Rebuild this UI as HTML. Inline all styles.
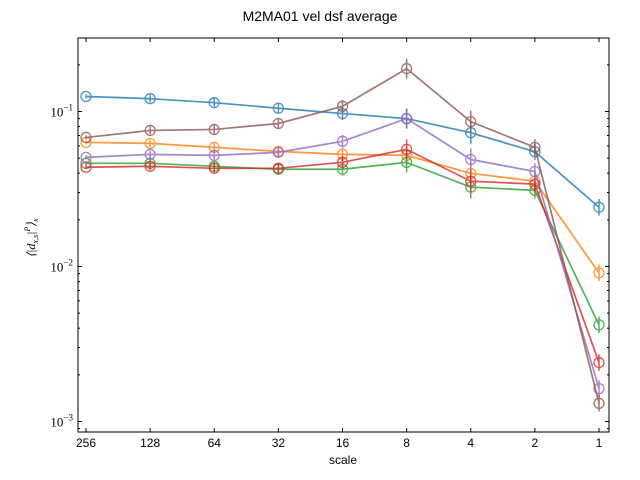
<!DOCTYPE html>
<html><head><meta charset="utf-8"><style>
body{margin:0;background:#fff}
svg{display:block;font-family:"Liberation Sans",sans-serif}
</style></head><body>
<svg id="chart" width="640" height="480">
<text x="320" y="21" text-anchor="middle" font-size="14">M2MA01 vel dsf average</text>
<text x="343" y="464" text-anchor="middle" font-size="12">scale</text>
<text transform="translate(35,238) rotate(-90)" text-anchor="middle" font-size="12" font-family="Liberation Serif,serif" font-style="italic">⟨|d<tspan font-size="8" dy="3">x,s</tspan><tspan dy="-3">|</tspan><tspan font-size="8" dy="-5">P</tspan><tspan dy="5">⟩</tspan><tspan font-size="8" dy="3">x</tspan></text>
<g id="axes"></g>
<g id="series"></g>
</svg>
<script>
const categories=["256","128","64","32","16","8","4","2","1"];
const blue=[0.125,0.121,0.114,0.105,0.097,0.090,0.073,0.055,0.0241];
const orange=[0.0632,0.0623,0.0587,0.0553,0.0529,0.0521,0.0399,0.0355,0.0091];
const green=[0.0463,0.0463,0.0443,0.0424,0.0424,0.047,0.0325,0.031,0.0042];
const red=[0.0437,0.0443,0.043,0.043,0.047,0.057,0.0355,0.034,0.0024];
const purple=[0.0506,0.0529,0.0521,0.0545,0.0642,0.090,0.049,0.041,0.00163];
const brown=[0.068,0.0755,0.0766,0.0837,0.108,0.189,0.086,0.0587,0.00131];
const relErr=[0.03,0.06,0.08,0.08,0.1,0.16,0.18,0.13,0.13];
const yTickLabels=["10","10","10"];
const yTickExps=[-1,-2,-3];
const L=78,R=609,T=38,B=432;
const NS="http://www.w3.org/2000/svg";
function x(i){return 86+i*(599-86)/(categories.length-1);}
function y(v){return 111.5+(-1-Math.log10(v))*155;}
function mk(tag,a,p){const e=document.createElementNS(NS,tag);for(const k in a)e.setAttribute(k,a[k]);p.appendChild(e);return e;}
const ax=document.getElementById('axes');
const sg=document.getElementById('series');
categories.forEach((c,i)=>{
 const t=mk('line',{x1:x(i),x2:x(i),y1:B,y2:B-4,stroke:'#000'},ax);
 
 mk('line',{x1:x(i),x2:x(i),y1:T,y2:T+4,stroke:'#000'},ax);
 const l=mk('text',{x:x(i),y:B+15,'text-anchor':'middle','font-size':12},ax);l.textContent=c;
 
});
for(let d=-4;d<0;d++){for(let m=1;m<10;m++){const v=m*Math.pow(10,d);const yy=y(v);if(yy<T||yy>B)continue;
 const len=m==1?4:2;
 mk('line',{x1:L,x2:L+len,y1:yy,y2:yy,stroke:'#000'},ax);
 mk('line',{x1:R,x2:R-len,y1:yy,y2:yy,stroke:'#000'},ax);}}
yTickExps.forEach((e,i)=>{const t=mk('text',{x:L-5,y:y(Math.pow(10,e))+5,'text-anchor':'end','font-size':13,'font-family':'Liberation Serif,serif'},ax);
 
 t.innerHTML=yTickLabels[i]+'<tspan font-size="9" dy="-6">−'+(-e)+'</tspan>';});
const fr=mk('rect',{x:L,y:T,width:R-L,height:B-T,fill:'none',stroke:'#000','stroke-width':1},ax);

const series=[["blue",blue,"#1f77b4"],["orange",orange,"#ff7f0e"],["green",green,"#2ca02c"],["red",red,"#d62728"],["purple",purple,"#9467bd"],["brown",brown,"#8c564b"]];
series.forEach(([n,vals,col])=>{
 const g=mk('g',{opacity:0.8},sg);
 
 mk('polyline',{points:vals.map((v,i)=>x(i)+','+y(v)).join(' '),fill:'none',stroke:col,'stroke-width':1.7},g);
 vals.forEach((v,i)=>{
  mk('line',{x1:x(i),x2:x(i),y1:y(v*(1+relErr[i])),y2:y(v/(1+relErr[i])),stroke:col,'stroke-width':1.5},g);
  const c=mk('circle',{cx:x(i),cy:y(v),r:5,fill:'none',stroke:col,'stroke-width':1.3},g);
  
 });
});
</script>
</body></html>
